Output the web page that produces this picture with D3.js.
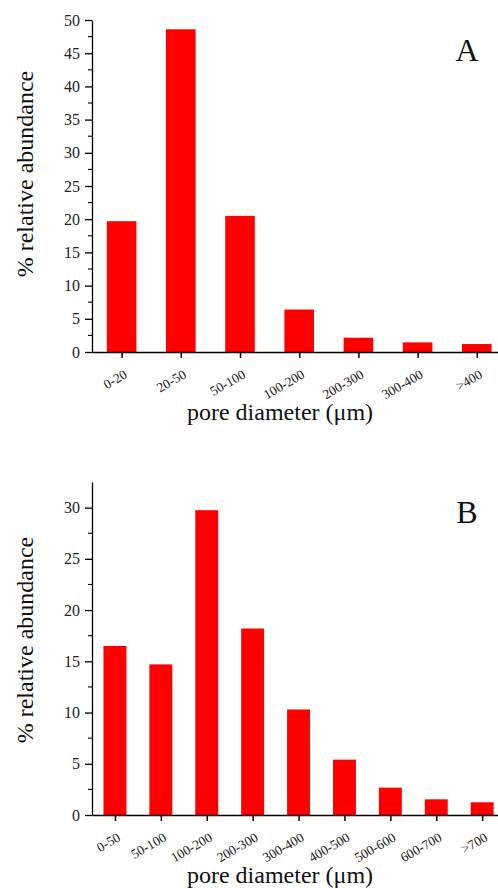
<!DOCTYPE html>
<html>
<head>
<meta charset="utf-8">
<script src="https://cdn.jsdelivr.net/npm/d3@7"></script>
<style>
  html, body { margin: 0; padding: 0; background: #fff; }
  svg text { font-family: "Liberation Serif", "DejaVu Serif", "Times New Roman", serif; }
</style>
</head>
<body>
<div id="chart"></div>
<script>
// Panel A data
const categoriesA = ["0-20", "20-50", "50-100", "100-200", "200-300", "300-400", ">400"];
const valuesA = [19.7, 48.6, 20.5, 6.4, 2.15, 1.45, 1.2];
const ticksA = [0, 5, 10, 15, 20, 25, 30, 35, 40, 45, 50];

// Panel B data
const categoriesB = ["0-50", "50-100", "100-200", "200-300", "300-400", "400-500", "500-600", "600-700", ">700"];
const valuesB = [16.5, 14.7, 29.75, 18.2, 10.3, 5.4, 2.67, 1.53, 1.24];
const ticksB = [0, 5, 10, 15, 20, 25, 30];

const width = 498;
const height = 889;
const serif = "'Liberation Serif', 'DejaVu Serif', serif";

const svg = d3.select("#chart")
    .append("svg")
    .attr("width", width)
    .attr("height", height)
    .style("display", "block");

function drawPanel(opts) {
    const g = svg.append("g");
    const n = opts.categories.length;

    // x: category index 1..n, axis starts half a step before the first bar
    const x = d3.scaleLinear()
        .domain([0.5, 0.5 + (opts.xRight - opts.left) / opts.step])
        .range([opts.left, opts.xRight]);

    const y = d3.scaleLinear()
        .domain([0, opts.yMax])
        .range([opts.bottom, opts.top]);

    const barW = opts.step * 0.5;

    // bars
    g.append("g")
        .selectAll("rect")
        .data(opts.values)
        .join("rect")
        .attr("x", (d, i) => x(i + 1) - barW / 2)
        .attr("y", d => y(d))
        .attr("width", barW)
        .attr("height", d => y(0) - y(d))
        .attr("fill", "#ff0000");

    // y axis
    const yAxis = g.append("g")
        .attr("transform", `translate(${opts.left},0)`)
        .call(d3.axisLeft(y).tickValues(opts.ticks).tickSize(7).tickSizeOuter(0).tickPadding(5));
    yAxis.attr("font-family", null).attr("font-size", null);
    yAxis.select(".domain").attr("stroke", "#000").attr("stroke-width", 1.3);
    yAxis.selectAll(".tick line").attr("stroke-width", 1.3);
    yAxis.selectAll("text")
        .style("font-size", "16px")
        .style("font-family", serif)
        .attr("fill", "#222");

    // minor ticks
    const minor = d3.range(2.5, opts.yMax, 5);
    g.append("g")
        .selectAll("line")
        .data(minor)
        .join("line")
        .attr("x1", opts.left - 4)
        .attr("x2", opts.left)
        .attr("y1", d => y(d))
        .attr("y2", d => y(d))
        .attr("stroke", "#000")
        .attr("stroke-width", 1.1);

    // x axis
    const xAxis = g.append("g")
        .attr("transform", `translate(0,${opts.bottom})`)
        .call(d3.axisBottom(x)
            .tickValues(d3.range(1, n + 1))
            .tickFormat(i => opts.categories[i - 1])
            .tickSize(6)
            .tickSizeOuter(0));
    xAxis.attr("font-family", null).attr("font-size", null);
    xAxis.select(".domain").attr("stroke", "#000").attr("stroke-width", 1.3);
    xAxis.selectAll(".tick line").attr("stroke-width", 1.5);
    xAxis.selectAll("text")
        .style("font-size", "13.5px")
        .style("font-family", serif)
        .attr("fill", "#222")
        .attr("text-anchor", "end")
        .attr("dy", 0)
        .attr("y", 0)
        .attr("transform", "translate(6,25) rotate(-30)");

    // y title
    g.append("text")
        .attr("transform", `translate(${opts.yTitleX},${opts.yTitleY}) rotate(-90)`)
        .attr("text-anchor", "middle")
        .style("font-size", "24px")
        .style("font-family", serif)
        .attr("fill", "#111")
        .text("% relative abundance");

    // x title
    g.append("text")
        .attr("x", 280)
        .attr("y", opts.xTitleY)
        .attr("text-anchor", "middle")
        .style("font-size", "24px")
        .style("font-family", serif)
        .attr("fill", "#111")
        .text("pore diameter (\u03bcm)");

    // panel letter
    g.append("text")
        .attr("x", 467)
        .attr("y", opts.letterY)
        .attr("text-anchor", "middle")
        .style("font-size", "32px")
        .style("font-family", serif)
        .attr("fill", "#111")
        .text(opts.letter);
}

drawPanel({
    categories: categoriesA, values: valuesA, ticks: ticksA,
    yMax: 50, top: 20, bottom: 352, left: 92, xRight: 505, step: 59.2,
    yTitleX: 33, yTitleY: 174, xTitleY: 420, letter: "A", letterY: 61
});

drawPanel({
    categories: categoriesB, values: valuesB, ticks: ticksB,
    yMax: 32.5, top: 482, bottom: 815, left: 92, xRight: 505, step: 45.9,
    yTitleX: 33, yTitleY: 640, xTitleY: 883, letter: "B", letterY: 523
});
</script>
</body>
</html>
